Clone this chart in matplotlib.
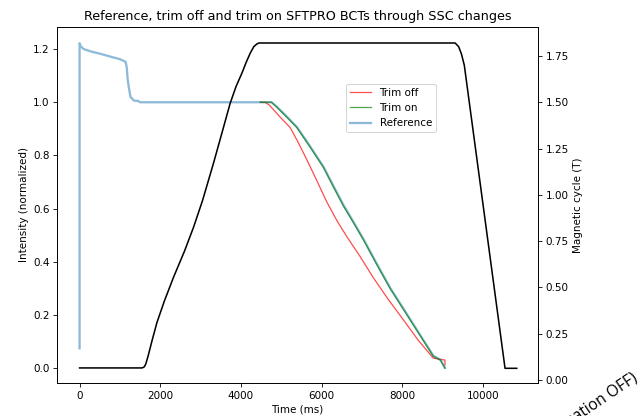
import matplotlib
matplotlib.use("Agg")
from matplotlib import pyplot as plt

# magnetic cycle (T)
mag_t = [0, 1550, 1600, 1640, 1700, 1800, 1918, 2100, 2330, 2600, 2826, 3050, 3321, 3550, 3735, 3880, 4025, 4130,
         4231, 4320, 4397, 4450, 9313, 9400, 9470, 9540, 10550, 10840]
mag_b = [0.065, 0.065, 0.07, 0.085, 0.13, 0.215, 0.31, 0.425, 0.555, 0.695, 0.825, 0.97, 1.171, 1.35, 1.495, 1.585, 1.657, 1.715,
         1.765, 1.80, 1.815, 1.82, 1.82, 1.80, 1.76, 1.70, 0.063, 0.063]

# reference intensity
ref_t = [0, 0, 30, 100, 300, 520, 800, 1000, 1140, 1170, 1190, 1220, 1262, 1350, 1450, 1500,
         4760, 4900, 5100, 5388, 5700, 6047, 6300, 6543, 6800, 7038, 7370, 7700, 8196, 8500, 8773, 8950, 9060]
ref_i = [0.075, 1.222, 1.21, 1.20, 1.19, 1.182, 1.17, 1.162, 1.152, 1.13, 1.09, 1.057, 1.02, 1.006, 1.005, 1.0,
         1.0, 0.982, 0.952, 0.907, 0.838, 0.758, 0.684, 0.614, 0.548, 0.486, 0.393, 0.303, 0.185, 0.112, 0.047, 0.032, 0.002]

# trim off
off_t = [4480, 4600, 4700, 4850, 5000, 5222, 5400, 5636, 5900, 6131, 6400, 6627, 6957, 7286, 7650, 8030, 8400, 8773, 9060, 9060]
off_i = [1.0, 1.0, 0.99, 0.965, 0.94, 0.905, 0.855, 0.784, 0.70, 0.625, 0.55, 0.495, 0.42, 0.34, 0.26, 0.182, 0.105, 0.038, 0.031, 0.012]

# trim on
on_t = [4480, 4760, 4900, 5100, 5388, 5700, 6047, 6300, 6543, 6800, 7038, 7370, 7700, 8196, 8500, 8773, 8950, 9060]
on_i = [1.0, 1.0, 0.98, 0.95, 0.905, 0.835, 0.755, 0.68, 0.61, 0.545, 0.483, 0.39, 0.30, 0.182, 0.11, 0.045, 0.03, 0.0]

fig = plt.figure(figsize=(638 / 75, 416 / 75), dpi=75)
ax = fig.add_axes([57 / 638, 1 - 383.3 / 416, 481.3 / 638, 356.6 / 416])
ax2 = ax.twinx()

ax.plot(off_t, off_i, color='red', alpha=0.7, lw=1.2, label='Trim off')
ax.plot(ref_t, ref_i, color='#1f77b4', alpha=0.5, lw=2.2, label='Reference')
ax.plot(on_t, on_i, color='green', alpha=0.7, lw=1.2, label='Trim on')
ax2.plot(mag_t, mag_b, color='black', lw=1.5)

ax.set_xlim(-560, 11375)
ax.set_ylim(-0.0564, 1.284)
ax2.set_ylim(-0.018, 1.908)
ax.set_xticks([0, 2000, 4000, 6000, 8000, 10000])
ax.set_yticks([0.0, 0.2, 0.4, 0.6, 0.8, 1.0, 1.2])
ax2.set_yticks([0.0, 0.25, 0.5, 0.75, 1.0, 1.25, 1.5, 1.75])

ax.set_title("Reference, trim off and trim on SFTPRO BCTs through SSC changes", fontsize=12.3)
ax.set_xlabel("Time (ms)")
ax.set_ylabel("Intensity (normalized)")
ax2.set_ylabel("Magnetic cycle (T)")

h, l = ax.get_legend_handles_labels()
order = [0, 2, 1]
ax.legend([h[i] for i in order], [l[i] for i in order], loc='upper left', bbox_to_anchor=(0.59, 0.855))

fig.text(639 / 638, 1 - 380 / 416, "(compensation OFF)", rotation=34, ha='right', va='baseline',
         rotation_mode='anchor', fontsize=15, family='Open Sans')

fig.savefig("out.png", dpi=75)
